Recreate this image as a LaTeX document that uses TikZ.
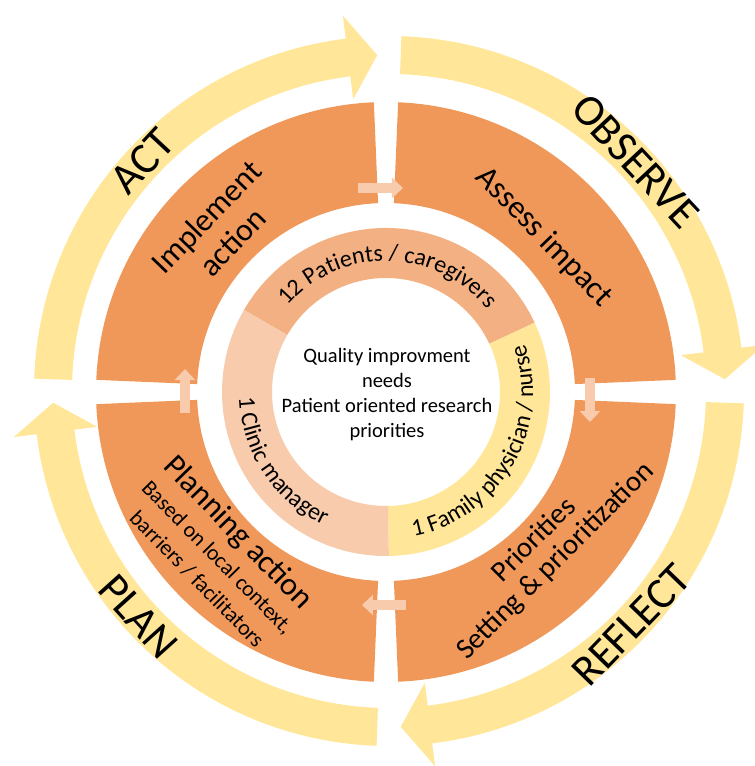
\documentclass[tikz,border=0pt]{standalone}
\usepackage{fontspec}
\setmainfont{Carlito}
\usetikzlibrary{arrows.meta,decorations.text}

\definecolor{quadorange}{RGB}{240,152,90}
\definecolor{ringpeach}{RGB}{243,177,131}
\definecolor{ringpale}{RGB}{248,203,173}
\definecolor{cycleyellow}{RGB}{255,230,153}

\newcommand{\cyclepiece}[3]{%
  \fill[cyclefill] (#1:355pt) arc (#1:#2:355pt) -- (#2:378pt) -- (#3:336pt)
    -- (#2:294pt) -- (#2:317pt) arc (#2:#1:317pt) -- cycle;}
\newcommand{\quadpiece}[2]{%
  \fill[quadfill] (#1:290pt) arc (#1:#2:290pt) -- (#2:189pt) arc (#2:#1:189pt) -- cycle;}
\newcommand{\ringpiece}[3]{%
  \fill[#3] (#1:164pt) arc (#1:#2:164pt) -- (#2:114pt) arc (#2:#1:114pt) -- cycle;}

\begin{document}
\begin{tikzpicture}[
    cyclefill/.style = {fill = cycleyellow},
    quadfill/.style = {fill = quadorange},
    linkarrow/.style = {draw = ringpale, line width = 10pt, -{Triangle[length = 11pt, width = 20pt]}},
    phase/.style = {font = \fontsize{44}{44}\selectfont},
    steptitle/.style = {font = \fontsize{32}{36}\selectfont, align = center},
    stepnote/.style = {font = \fontsize{22}{26}\selectfont},
    ringtext/.style = {decorate, decoration = {text along path, text align = center, text = {|\fontsize{24}{24}\selectfont|#1}}}
]
    \useasboundingbox (-386pt,-374pt) rectangle (369pt,392pt);

    \begin{scope}[shift = {(3pt,1pt)}]
        \cyclepiece{178}{97}{92}
        \cyclepiece{88}{7}{2}
        \cyclepiece{-2}{-83}{-88}
        \cyclepiece{268}{187}{182}

        \node[phase, rotate = 47]  (act)     at (137:337pt) {ACT};
        \node[phase, rotate = -47] (observe) at (43:337pt)  {OBSERVE};
        \node[phase, rotate = 46]  (reflect) at (-44:337pt) {REFLECT};
        \node[phase, rotate = -48] (plan)    at (222:337pt) {PLAN};
    \end{scope}

    \quadpiece{177.6}{92.4}
    \quadpiece{87.6}{2.4}
    \quadpiece{-2.4}{-87.6}
    \quadpiece{267.6}{182.4}

    \node[steptitle, rotate = 46] (implement) at (135.7:233pt) {Implement\\action};
    \node[steptitle, rotate = -46] (assess) at (44.4:221pt) {Assess impact};
    \node[steptitle, font = \fontsize{29}{30}\selectfont, rotate = 45] (priorities) at (-45:225pt)
        {Priorities\\Setting \& prioritization};
    \node[steptitle, rotate = -46] (planning) at (223.6:205pt) {Planning action};
    \node[stepnote, rotate = -45.5] (context) at (224.5:237pt) {Based on local context,};
    \node[stepnote, rotate = -45.5] (barriers) at (224.7:266pt) {barriers / facilitators};

    \coordinate (act-out)     at (-28pt,204pt);
    \coordinate (observe-in)  at (17pt,204pt);
    \coordinate (observe-out) at (204pt,14pt);
    \coordinate (reflect-in)  at (204pt,-30pt);
    \coordinate (reflect-out) at (20pt,-213pt);
    \coordinate (plan-in)     at (-24pt,-213pt);
    \coordinate (plan-out)    at (-201pt,-21pt);
    \coordinate (act-in)      at (-201pt,23pt);

    \draw[linkarrow] (act-out) -- (observe-in);
    \draw[linkarrow] (observe-out) -- (reflect-in);
    \draw[linkarrow] (reflect-out) -- (plan-in);
    \draw[linkarrow] (plan-out) -- (act-in);

    \ringpiece{150}{25}{ringpeach}
    \ringpiece{25}{-89}{cycleyellow}
    \ringpiece{271}{150}{ringpale}

    \path[ringtext = {12 Patients / caregivers}] (150:131pt) arc (150:28:131pt);
    \path[ringtext = {1 Family physician / nurse}] (-88:147pt) arc (-88:28:147pt);
    \path[ringtext = {1 Clinic manager}] (160:147pt) arc (160:267:147pt);

    \node[align = center, font = \fontsize{20.5}{25}\selectfont] (needs) at (1pt,-3pt)
        {Quality improvment\\needs\\Patient oriented research\\priorities};
\end{tikzpicture}
\end{document}
